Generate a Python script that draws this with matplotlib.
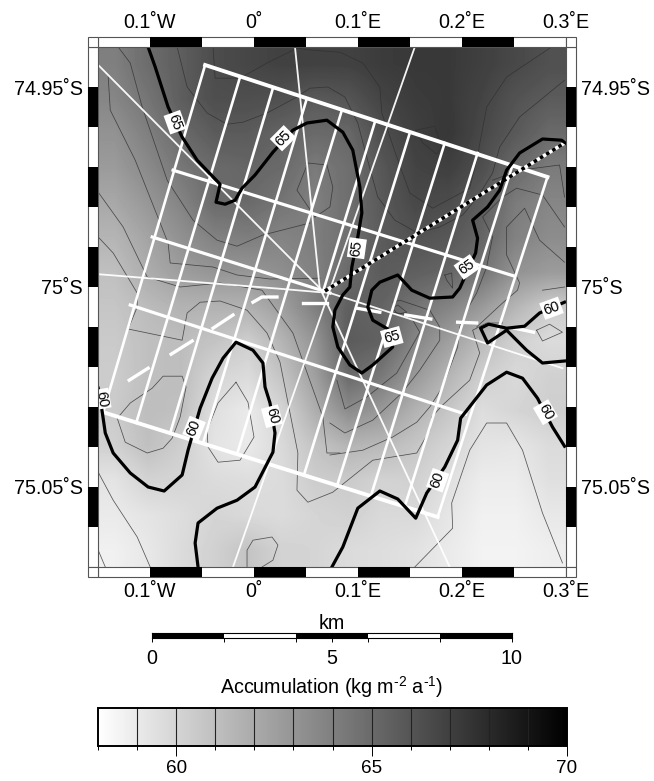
import matplotlib
matplotlib.use('Agg')
import matplotlib.pyplot as plt
from matplotlib.cm import ScalarMappable
from matplotlib.colors import Normalize
from matplotlib.patches import Rectangle
import numpy as np

plt.rcParams['font.family'] = ['Liberation Sans', 'DejaVu Sans']
plt.rcParams['mathtext.default'] = 'regular'

# accumulation field (kg m-2 a-1), read row by row from north to south
accumulation = np.array([
    [64.0, 64.9, 65.6, 66.4, 66.7, 66.9, 66.9, 66.9, 67.2, 67.3, 67.3, 67.0, 66.6, 66.2],
    [63.7, 64.5, 65.6, 66.3, 66.3, 66.2, 65.8, 66.0, 66.8, 67.2, 67.3, 66.8, 66.1, 65.7],
    [63.1, 64.0, 65.0, 65.7, 65.7, 65.3, 65.0, 65.1, 66.3, 67.0, 67.4, 66.6, 65.8, 65.0],
    [62.7, 63.5, 64.4, 65.0, 65.2, 65.0, 64.2, 64.8, 65.9, 66.8, 67.0, 66.3, 65.0, 64.2],
    [62.1, 62.9, 63.8, 65.0, 65.0, 64.5, 64.0, 64.8, 65.8, 66.6, 66.4, 65.6, 64.2, 63.7],
    [61.5, 62.3, 63.2, 63.9, 64.1, 63.8, 64.1, 64.7, 65.7, 66.1, 65.9, 65.2, 63.9, 63.4],
    [61.0, 61.9, 62.6, 63.0, 62.9, 63.3, 63.9, 65.0, 65.7, 65.5, 65.2, 64.5, 63.1, 62.7],
    [60.7, 61.2, 61.6, 61.6, 61.7, 62.5, 64.0, 65.5, 65.3, 64.5, 63.8, 62.8, 61.5, 60.4],
    [60.5, 61.0, 61.1, 60.8, 60.3, 61.5, 63.0, 65.7, 65.4, 63.7, 62.5, 61.2, 60.2, 59.7],
    [60.4, 61.0, 61.1, 60.0, 59.7, 60.8, 62.5, 65.0, 64.3, 62.8, 61.5, 60.3, 59.8, 60.2],
    [60.5, 61.1, 61.0, 59.5, 59.0, 60.0, 61.8, 63.4, 62.8, 61.6, 60.7, 59.6, 60.0, 60.3],
    [60.2, 61.0, 60.3, 59.3, 59.0, 59.8, 60.8, 61.5, 61.3, 60.7, 60.0, 59.3, 59.2, 59.7],
    [59.3, 60.1, 60.0, 59.7, 59.6, 59.7, 60.4, 60.5, 60.1, 60.2, 59.5, 58.9, 58.9, 59.5],
    [59.0, 59.3, 59.6, 60.0, 59.8, 59.7, 60.0, 60.2, 59.8, 59.8, 59.2, 58.7, 58.7, 59.1],
    [58.7, 59.1, 59.7, 60.2, 60.8, 60.1, 60.0, 59.7, 59.6, 59.4, 59.0, 58.6, 58.6, 58.8],
])

lon_ticks = [-0.1, 0, 0.1, 0.2, 0.3]
lon_labels = ['0.1˚W', '0˚', '0.1˚E', '0.2˚E', '0.3˚E']
lat_ticks = [-74.95, -75.0, -75.05]
lat_labels = ['74.95˚S', '75˚S', '75.05˚S']
lon_black = [(-0.1, -0.05), (0, 0.05), (0.1, 0.15), (0.2, 0.25)]
lat_black = [(-74.96, -74.95), (-74.98, -74.97), (-75.0, -74.99),
             (-75.02, -75.01), (-75.04, -75.03), (-75.06, -75.05)]

# thick contours
c65_lon = [-0.1018, -0.095, -0.0826, -0.0691, -0.0547, -0.0326, -0.0365, -0.0278, -0.0182, -0.0115, 0.001,
           0.0182, 0.0374, 0.0509, 0.0701, 0.0854, 0.095, 0.1018, 0.1037, 0.0998, 0.0941, 0.0922, 0.0854,
           0.0778, 0.0758, 0.0806, 0.0922, 0.1037, 0.1142, 0.1334, 0.1286, 0.1142, 0.1094, 0.1133, 0.121,
           0.1382, 0.1517, 0.169, 0.191, 0.1978, 0.2131, 0.215, 0.2102, 0.2246, 0.2362, 0.2429, 0.2554,
           0.2774, 0.2957, 0.2995]
c65_lat = [-74.94, -74.945, -74.955, -74.9625, -74.9683, -74.9743, -74.9788, -74.9793, -74.9783, -74.9753, -74.972,
           -74.9663, -74.9608, -74.959, -74.9583, -74.9613, -74.9658, -74.975, -74.9815, -74.9875, -74.995, -75.0, -75.002,
           -75.0058, -75.01, -75.015, -75.0195, -75.0215, -75.0195, -75.015, -75.0105, -75.0083, -75.005, -75.0008, -74.9988,
           -74.997, -75.0008, -75.0028, -75.0025, -75.0003, -74.9915, -74.9878, -74.9833, -74.98, -74.9758, -74.9708, -74.9665,
           -74.963, -74.9633, -74.964]
c60a_lon = [-0.1498, -0.1459, -0.143, -0.1354, -0.119, -0.1018, -0.0864, -0.0691, -0.0634, -0.0518, -0.0403, -0.0298,
            -0.0173, -0.001, 0.0086, 0.0106, 0.0154, 0.0202, 0.0182, 0.001, -0.0163, -0.0355, -0.0538, -0.0566, -0.0538]
c60a_lat = [-75.0253, -75.0313, -75.0365, -75.0415, -75.0465, -75.05, -75.051, -75.047, -75.0408, -75.0303, -75.0228, -75.0178,
            -75.0138, -75.0158, -75.019, -75.025, -75.029, -75.0365, -75.0413, -75.05, -75.0533, -75.0553, -75.059, -75.064, -75.07]
c60b_lon = [0.0749, 0.0854, 0.0998, 0.121, 0.1382, 0.1555, 0.1661, 0.1834, 0.1958, 0.1987, 0.2237, 0.2429, 0.2582,
            0.2726, 0.287, 0.2986]
c60b_lat = [-75.07, -75.065, -75.0553, -75.051, -75.053, -75.0578, -75.0515, -75.045, -75.0383, -75.0328, -75.0245,
            -75.0213, -75.0228, -75.0278, -75.035, -75.0398]
c60c_lon = [0.2986, 0.2774, 0.2621, 0.2429, 0.2246, 0.2179, 0.2256, 0.2429, 0.2602, 0.2746, 0.2986]
c60c_lat = [-75.0185, -75.019, -75.0158, -75.0108, -75.014, -75.0103, -75.0093, -75.0103, -75.0098, -75.0065, -75.0038]

label_text = ['65', '65', '65', '65', '65', '60', '60', '60', '60', '60', '60']
label_lon = [-0.0758, 0.0278, 0.0989, 0.2045, 0.1325, -0.1469, -0.0576, 0.0173, 0.1766, 0.2803, 0.2861]
label_lat = [-74.9588, -74.9628, -74.9903, -74.995, -75.0125, -75.028, -75.0353, -75.0323, -75.0483, -75.0313, -75.0053]
label_rot = [-70, 45, 82, 35, 15, -80, 68, -75, 70, -60, 20]

# thin contours, (lons, lats)
thin_contours = [
    ([-0.1306, -0.119, -0.1075, -0.0835, -0.0586, -0.0355, -0.0163, 0.0086, 0.0538],
     [-74.94, -74.944, -74.955, -74.9733, -74.9833, -74.9883, -74.9898, -74.987, -74.984]),
    ([0.0586, 0.0413, 0.0518, 0.0701, 0.0758, 0.073, 0.0586],
     [-74.9825, -74.9758, -74.969, -74.9695, -74.975, -74.98, -74.9825]),
    ([-0.1402, -0.1382, -0.1142, -0.0826, -0.0806, -0.0394, -0.0163, 0.0154, 0.0634],
     [-74.9475, -74.9558, -74.9683, -74.989, -74.994, -74.995, -74.997, -74.998, -74.9978]),
    ([-0.1498, -0.1258, -0.1027, -0.071, -0.0326, 0.0077, 0.0374, 0.0662, 0.0701, 0.0826],
     [-74.9763, -74.985, -74.9975, -75.0, -74.999, -75.0008, -75.0115, -75.0325, -75.0415, -75.0415]),
    ([-0.1498, -0.1354, -0.1123, -0.1123, -0.121, -0.0691, -0.0643, -0.0518, -0.0326, -0.0067, 0.0125, 0.025, 0.0422,
      0.0413, 0.0518, 0.0758, 0.1142, 0.1565, 0.169, 0.1709, 0.1814, 0.2074, 0.217, 0.2102, 0.2237, 0.239],
     [-74.9875, -74.9915, -75.0015, -75.005, -75.0105, -75.0133, -75.0065, -75.0038, -75.0035, -75.0058, -75.0115, -75.0188, -75.0415,
      -75.0508, -75.0538, -75.0513, -75.0433, -75.0415, -75.0358, -75.0325, -75.0295, -75.0233, -75.0165, -75.0108, -75.009, -75.009]),
    ([-0.1498, -0.1354, -0.1123, -0.0998], [-75.0463, -75.0533, -75.0625, -75.07]),
    ([-0.1498, -0.143], [-75.0658, -75.07]),
    ([-0.1315, -0.119, -0.0979, -0.0874, -0.0691, -0.0653, -0.071, -0.0787, -0.0874, -0.1027, -0.1238, -0.1315],
     [-75.0328, -75.029, -75.0253, -75.0223, -75.0223, -75.025, -75.0325, -75.0378, -75.0403, -75.0415, -75.0388, -75.0328]),
    ([-0.0173, -0.0058, 0.0, -0.0134, -0.0346, -0.0442, -0.0451, -0.0346, -0.0173],
     [-75.0238, -75.0288, -75.0375, -75.0433, -75.0438, -75.04, -75.0358, -75.029, -75.0238]),
    ([-0.0067, -0.0067, -0.001, 0.0173, 0.023, 0.0182, 0.0077],
     [-75.07, -75.0658, -75.0633, -75.0625, -75.0645, -75.0683, -75.07]),
    ([-0.0739, -0.0643, -0.0451, -0.0259, -0.0106, 0.0125, 0.0413, 0.0538, 0.071, 0.0874, 0.0998, 0.1066, 0.119, 0.1354,
      0.1574, 0.1786, 0.2006, 0.215, 0.2294, 0.2362, 0.2554, 0.2986],
     [-74.94, -74.95, -74.9565, -74.9593, -74.9588, -74.9565, -74.9525, -74.9503, -74.95, -74.9525, -74.959, -74.9658, -74.9775, -74.9833,
      -74.9865, -74.985, -74.982, -74.9775, -74.9715, -74.965, -74.9575, -74.9483]),
    ([-0.0394, -0.0374, -0.0134, 0.0125, 0.0413, 0.0566, 0.0826, 0.1046, 0.121, 0.1229, 0.1373, 0.1498, 0.1718, 0.2074,
      0.2141, 0.2237, 0.2429, 0.2861],
     [-74.94, -74.9478, -74.9478, -74.944, -74.9403, -74.9408, -74.9413, -74.944, -74.95, -74.9565, -74.9675, -74.9765, -74.9803, -74.9753,
      -74.9683, -74.955, -74.9475, -74.94]),
    ([0.1555, 0.1738, 0.1805, 0.1757, 0.1622, 0.1555], [-74.9608, -74.9598, -74.965, -74.9668, -74.964, -74.9608]),
    ([0.1834, 0.1901, 0.191, 0.1853, 0.1834], [-74.997, -74.9965, -75.0003, -74.9983, -74.997]),
    ([0.2294, 0.2554, 0.2938, 0.2986], [-74.9733, -74.9708, -74.9695, -74.9775]),
    ([0.2986, 0.2774, 0.2525, 0.239, 0.2237, 0.2198, 0.2294, 0.2237, 0.2141, 0.2045, 0.1978, 0.1958, 0.1814, 0.169, 0.1565,
      0.1334, 0.1046, 0.073],
     [-74.985, -74.977, -74.9753, -74.9775, -74.9815, -74.9825, -74.9875, -74.995, -75.0015, -75.0058, -75.01, -75.015, -75.025, -75.03, -75.0338,
      -75.0375, -75.0408, -75.042]),
    ([0.2986, 0.2746, 0.2602, 0.2429, 0.2429, 0.2554, 0.2534, 0.239, 0.2141],
     [-74.9938, -74.9883, -74.9803, -74.985, -74.992, -74.999, -75.0008, -75.004, -75.01]),
    ([0.2774, 0.2986], [-75.0008, -75.0]),
    ([0.2717, 0.2842, 0.2966, 0.2774, 0.2717], [-75.0108, -75.0093, -75.0113, -75.0135, -75.0108]),
    ([0.1334, 0.1382, 0.1469, 0.1382, 0.1334], [-75.0053, -75.0045, -75.0063, -75.0068, -75.0053]),
    ([0.0797, 0.0874, 0.1085, 0.1373, 0.1594, 0.1498, 0.121],
     [-75.0233, -75.0305, -75.0275, -75.0215, -75.0113, -75.007, -75.0058]),
    ([0.073, 0.0874, 0.1142, 0.1421, 0.1594, 0.1786, 0.1786, 0.169, 0.1402, 0.1334],
     [-75.034, -75.0365, -75.0333, -75.0265, -75.0208, -75.0133, -75.01, -75.0058, -75.0033, -75.0038]),
    ([0.1546, 0.191, 0.1901, 0.2074, 0.2237, 0.2429, 0.2582, 0.2774, 0.2966],
     [-75.07, -75.0603, -75.054, -75.0408, -75.034, -75.034, -75.0408, -75.0565, -75.069]),
]

# survey lines: ends of the along-flow lines on the north and south cross lines
along_top_lon = [-0.047, -0.0134, 0.0182, 0.0509, 0.0845, 0.1162, 0.1498, 0.1834, 0.215, 0.2486, 0.2822]
along_top_lat = [-74.9445, -74.9475, -74.9503, -74.9528, -74.9558, -74.9588, -74.9615, -74.964, -74.9665, -74.9695, -74.9725]
along_end_lon = [-0.145, -0.1133, -0.0806, -0.049, -0.0163, 0.0662, 0.048, 0.0797, 0.1123, 0.145, 0.1766]
along_end_lat = [-75.0313, -75.034, -75.0365, -75.039, -75.0418, -75.0013, -75.047, -75.0498, -75.0523, -75.0548, -75.0575]
cross_thick = [
    ([-0.047, 0.2822], [-74.9445, -74.9725]),
    ([-0.145, 0.1766], [-75.0313, -75.0575]),
]
cross_mid = [
    ([-0.0778, 0.2506], [-74.9708, -74.9973]),
    ([-0.0979, 0.073], [-74.9875, -75.0015]),
    ([-0.119, 0.2035], [-75.0045, -75.0318]),
]
thin_white = [
    ([0.1546, -0.0202], [-74.94, -75.07]),
    ([0.0394, 0.0634], [-74.94, -75.0008]),
    ([-0.1498, 0.0634, 0.1882], [-74.9445, -75.0003, -75.07]),
    ([-0.1498, 0.0278, 0.0634], [-74.9968, -75.0005, -75.0013]),
    ([0.073, 0.2966], [-75.0015, -75.0203]),
]
dotted_lon = [0.0682, 0.2986]
dotted_lat = [-75.001, -74.964]
dash_segments = [
    ([-0.12, -0.1018], [-75.0233, -75.0203]),
    ([-0.0797, -0.0595], [-75.0168, -75.0135]),
    ([-0.0394, -0.0202], [-75.0103, -75.007]),
    ([-0.001, 0.0077, 0.0221], [-75.0038, -75.0025, -75.0025]),
    ([0.047, 0.0701], [-75.004, -75.004]),
    ([0.0989, 0.121], [-75.0053, -75.0063]),
    ([0.1459, 0.17], [-75.007, -75.008]),
    ([0.1958, 0.2141], [-75.0088, -75.009]),
    ([0.2506, 0.2688], [-75.0103, -75.0113]),
]

scale_edges = [0, 2, 4, 6, 8, 10]
scale_colors = ['black', 'white', 'black', 'white', 'black']
scale_ticks = [0, 2, 4, 5, 6, 8, 10]
scale_labels = ['0', '', '', '5', '', '', '10']
cbar_min, cbar_max = 58, 70
cbar_major = [60, 65, 70]
cbar_steps = [58, 59, 60, 61, 62, 63, 64, 65, 66, 67, 68, 69, 70]

W, H = 654, 781
fs = 14.2


def px_axes(x0, y0, x1, y1):
    return fig.add_axes([x0 / W, 1 - y1 / H, (x1 - x0) / W, (y1 - y0) / H])


fig = plt.figure(figsize=(W / 100, H / 100), dpi=100)
ax = px_axes(98, 47, 566, 567)
norm = Normalize(cbar_min, cbar_max)
ax.imshow(accumulation, cmap='gray_r', norm=norm, interpolation='bilinear', aspect='auto',
          extent=[-0.15, 0.3, -75.07, -74.94], origin='upper')
ax.set_xlim(-0.15, 0.3)
ax.set_ylim(-75.07, -74.94)

for lons, lats in thin_contours:
    ax.plot(lons, lats, color='#303030', lw=0.55, alpha=0.8, zorder=2)

for lons, lats in thin_white:
    ax.plot(lons, lats, color='white', lw=1.3, alpha=0.95, zorder=3)
for i in range(len(along_top_lon)):
    ax.plot([along_top_lon[i], along_end_lon[i]], [along_top_lat[i], along_end_lat[i]],
            color='white', lw=1.9, zorder=3)
for lons, lats in cross_mid:
    ax.plot(lons, lats, color='white', lw=2.3, zorder=3)
for lons, lats in cross_thick:
    ax.plot(lons, lats, color='white', lw=2.8, zorder=3)
for lons, lats in dash_segments:
    ax.plot(lons, lats, color='white', lw=2.4, zorder=3)

ax.plot(dotted_lon, dotted_lat, color='white', lw=2.6, zorder=4)
ax.plot(dotted_lon, dotted_lat, color='black', lw=2.6, ls=(0, (1, 1)), zorder=4)

for lons, lats in [(c65_lon, c65_lat), (c60a_lon, c60a_lat), (c60b_lon, c60b_lat), (c60c_lon, c60c_lat)]:
    ax.plot(lons, lats, color='black', lw=2.3, zorder=5, solid_joinstyle='round')

for t, lo, la, r in zip(label_text, label_lon, label_lat, label_rot):
    ax.text(lo, la, t, rotation=r, rotation_mode='anchor', ha='center', va='center', fontsize=10.5, zorder=6,
            bbox=dict(facecolor='white', edgecolor='none', pad=1.3))

# checkered map frame
band_x = 10 / 520
band_y = 10 / 468
xt = ax.get_xaxis_transform()
yt = ax.get_yaxis_transform()
for y0 in [1, -band_x]:
    ax.add_patch(Rectangle((-0.15, y0), 0.45, band_x, transform=xt, fc='white', ec='#555555', lw=0.8, clip_on=False, zorder=7))
    for a, b in lon_black:
        ax.add_patch(Rectangle((a, y0), b - a, band_x, transform=xt, fc='black', ec='none', clip_on=False, zorder=8))
for x0 in [1, -band_y]:
    ax.add_patch(Rectangle((x0, -75.07), band_y, 0.13, transform=yt, fc='white', ec='#555555', lw=0.8, clip_on=False, zorder=7))
    for a, b in lat_black:
        ax.add_patch(Rectangle((x0, a), band_y, b - a, transform=yt, fc='black', ec='none', clip_on=False, zorder=8))
for x0 in [-band_y, 1]:
    for y0 in [-band_x, 1]:
        ax.add_patch(Rectangle((x0, y0), band_y, band_x, transform=ax.transAxes, fc='white', ec='#555555', lw=0.8,
                               clip_on=False, zorder=8))

ax.set_xticks(lon_ticks)
ax.set_xticklabels(lon_labels, fontsize=fs)
ax.set_yticks(lat_ticks)
ax.set_yticklabels(lat_labels, fontsize=fs)
ax.tick_params(axis='both', length=0, top=False, bottom=False, left=False, right=False,
               labeltop=True, labelbottom=True, labelleft=True, labelright=True)
ax.tick_params(axis='x', pad=11)
ax.tick_params(axis='y', pad=11)
for s in ax.spines.values():
    s.set_visible(False)

# scale bar
sc = px_axes(152, 633, 512, 638)
for i, c in enumerate(scale_colors):
    sc.barh(0.5, scale_edges[i + 1] - scale_edges[i], height=1, left=scale_edges[i], color=c)
sc.set_xlim(0, 10)
sc.set_ylim(0, 1)
sc.set_yticks([])
sc.set_xticks(scale_ticks)
sc.set_xticklabels(scale_labels, fontsize=fs)
sc.tick_params(axis='x', length=3, width=0.7, pad=5)
for s in sc.spines.values():
    s.set_linewidth(0.8)
sc.set_title('km', fontsize=fs, pad=3)
sc.set_xlabel('Accumulation (kg m$^{\u20102}$ a$^{\u20101}$)', fontsize=fs, labelpad=4)

# colour bar
cax = px_axes(98, 708, 567, 746)
cbar = fig.colorbar(ScalarMappable(norm=norm, cmap='gray_r'), cax=cax, orientation='horizontal')
cbar.set_ticks(cbar_major)
cbar.ax.set_xticks(cbar_steps, minor=True)
cbar.ax.tick_params(which='major', length=7, width=0.7, labelsize=13.6, pad=3)
cbar.ax.tick_params(which='minor', length=3, width=0.7)
for v in cbar_steps[1:-1]:
    cbar.ax.axvline(v, color='#222222', lw=0.8)
cbar.outline.set_linewidth(1.4)

fig.savefig('out.png', dpi=100)
